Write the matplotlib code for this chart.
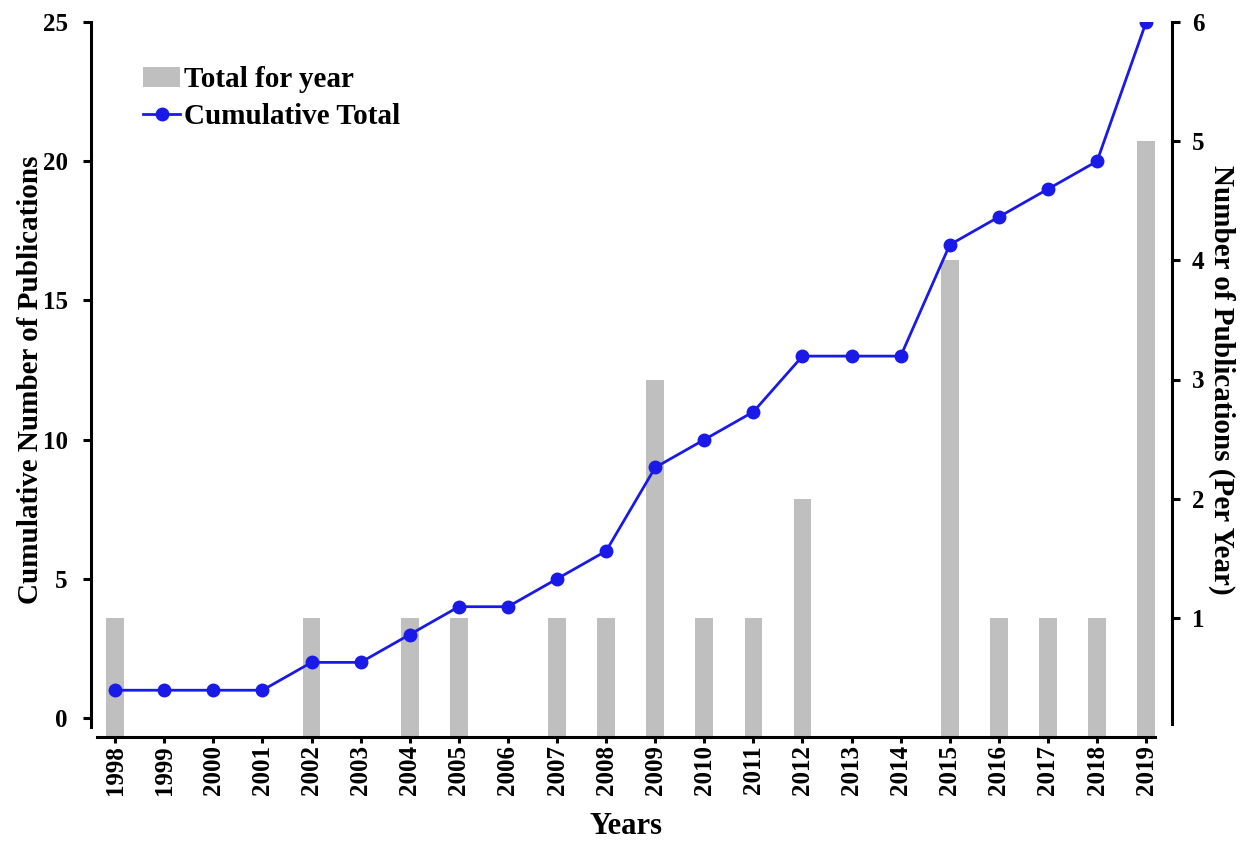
import numpy as np
import matplotlib.pyplot as plt

plt.rcParams['font.family'] = ['Liberation Serif', 'DejaVu Serif']
plt.rcParams['font.weight'] = 'bold'

# Data
years = ['1998', '1999', '2000', '2001', '2002', '2003', '2004', '2005', '2006', '2007', '2008',
         '2009', '2010', '2011', '2012', '2013', '2014', '2015', '2016', '2017', '2018', '2019']
per_year = [1, 0, 0, 0, 1, 0, 1, 1, 0, 1, 1, 3, 1, 1, 2, 0, 0, 4, 1, 1, 1, 5]
cumulative = [1, 1, 1, 1, 2, 2, 3, 4, 4, 5, 6, 9, 10, 11, 13, 13, 13, 17, 18, 19, 20, 25]

x = np.arange(len(years))

fig = plt.figure(figsize=(12.4, 8.44), dpi=100)
ax = fig.add_axes([97 / 1240, 107 / 844, 1058 / 1240, 715 / 844])
ax2 = ax.twinx()

# bars on the right axis (per year), line on the left axis (cumulative)
bars = ax2.bar(x, per_year, width=0.36, color='#bfbfbf', zorder=1, label='Total for year')
line, = ax.plot(x, cumulative, color='#1a1ae8', lw=2, marker='o', ms=9, zorder=3,
                label='Cumulative Total')
ax.set_zorder(ax2.get_zorder() + 1)
ax.patch.set_visible(False)

ax.set_xlim(-0.37, 21.18)
ax.set_ylim(-0.68, 25)
ax2.set_ylim(0, 6)

ax.set_yticks([0, 5, 10, 15, 20, 25])
ax2.set_yticks([1, 2, 3, 4, 5, 6])
ax.set_xticks(x)
ax.set_xticklabels(years, rotation=90)

for a in (ax, ax2):
    for s in a.spines.values():
        s.set_linewidth(2.2)
    a.spines['top'].set_visible(False)
ax.spines['right'].set_visible(False)
ax2.spines['left'].set_visible(False)
ax2.spines['bottom'].set_visible(False)
ax.spines['left'].set_position(('outward', 4))
ax.spines['left'].set_bounds(-0.33, 25)
ax2.spines['right'].set_position(('outward', 12.5))
ax2.spines['right'].set_bounds(0.11, 6)

ax.tick_params(axis='y', labelsize=18, width=2.2, length=6, pad=11)
ax.tick_params(axis='x', labelsize=18, width=2.2, length=4, pad=2)
ax2.tick_params(axis='y', labelsize=18, width=2.2, length=6, pad=8)

ax.set_xlabel('Years', fontsize=22, fontweight='bold', labelpad=12)
ax.set_ylabel('Cumulative Number of Publications', fontsize=21, fontweight='bold', labelpad=-1)
ax2.set_ylabel('Number of Publications (Per Year)', fontsize=21, fontweight='bold',
               rotation=270, labelpad=22)

ax.legend([bars, line], ['Total for year', 'Cumulative Total'], loc='upper left',
          bbox_to_anchor=(0.019, 0.975), frameon=False, fontsize=21, handlelength=1.25,
          handletextpad=0.15, labelspacing=0.35)

fig.savefig('out.png', dpi=100)
